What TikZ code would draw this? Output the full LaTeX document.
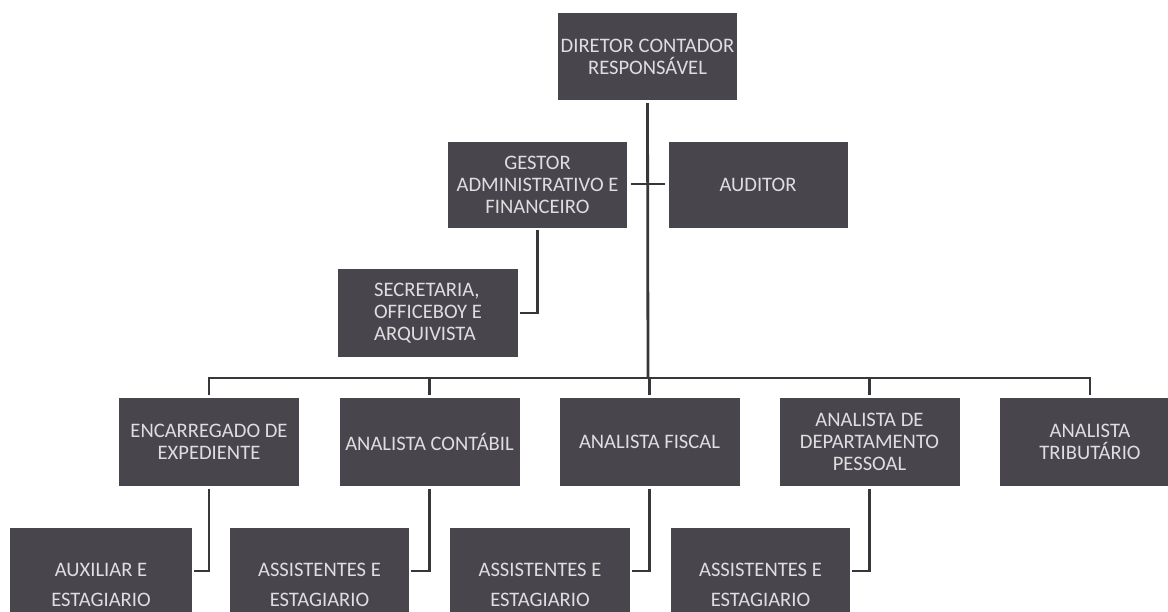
\documentclass[tikz,border=0pt]{standalone}
\usepackage{fontspec}
\setmainfont{Carlito}
\definecolor{boxfill}{RGB}{72,70,76}
\definecolor{boxtext}{RGB}{222,222,224}
\definecolor{linecol}{RGB}{55,55,58}
\tikzset{
  orgbox/.style={fill=boxfill, draw=none, inner sep=0pt, text=boxtext, align=center,
    font=\fontsize{20.6}{22}\selectfont, minimum width=180pt, minimum height=88pt},
  lowbox/.style={orgbox, font=\fontsize{20.6}{30}\selectfont, minimum height=114pt},
  conn/.style={draw=linecol, line width=2.8pt}
}
\begin{document}
\begin{tikzpicture}[x=1pt,y=-1pt]
\clip (0,0) rectangle (1168,611);
\fill[white] (0,0) rectangle (1168,611);
% top level
\node[orgbox, minimum width=179pt, minimum height=87pt] (dir) at (647.5,56.5) {DIRETOR CONTADOR\\RESPONSÁVEL};
\node[orgbox, minimum width=179pt, minimum height=86pt] (gest) at (537.5,185) {GESTOR\\ADMINISTRATIVO E\\FINANCEIRO};
\node[orgbox, minimum width=179pt, minimum height=86pt] (aud) at (758,185) {AUDITOR};
\node[orgbox, align=left] (sec) at (428,313) {SECRETARIA,\\OFFICEBOY E\\ARQUIVISTA};
% second level
\node[orgbox] (enc) at (209,441.5) {ENCARREGADO DE\\EXPEDIENTE};
\node[orgbox] (cont) at (429.5,441.5) {ANALISTA CONTÁBIL};
\node[orgbox] (fisc) at (649.5,441.5) {ANALISTA FISCAL};
\node[orgbox] (dp) at (869.5,441.5) {ANALISTA DE\\DEPARTAMENTO\\PESSOAL};
\node[orgbox] (trib) at (1090,441.5) {ANALISTA\\TRIBUTÁRIO};
% third level
\node[lowbox, minimum width=182pt] (aux) at (101,585) {AUXILIAR E\\ESTAGIARIO};
\node[lowbox, minimum width=179pt] (as1) at (319.5,585) {ASSISTENTES E\\ESTAGIARIO};
\node[lowbox] (as2) at (540,585) {ASSISTENTES E\\ESTAGIARIO};
\node[lowbox, minimum width=179pt] (as3) at (760.5,585) {ASSISTENTES E\\ESTAGIARIO};
% connectors
\coordinate (bus) at (648,378);
\draw[conn] ([yshift=-3pt]dir.south) -- (bus);
\draw[conn] ([xshift=4pt]gest.east |- 0,184) -- ([xshift=-3pt]aud.west |- 0,184);
\draw[conn] ([yshift=-2pt]gest.south) |- ([xshift=2pt]sec.east);
\draw[conn] ([yshift=2pt]enc.north) |- (bus) -| ([yshift=2pt]trib.north);
\draw[conn] ([yshift=2pt]cont.north) -- (cont.north |- bus);
\draw[conn] ([yshift=2pt]fisc.north) -- (fisc.north |- bus);
\draw[conn] ([yshift=2pt]dp.north) -- (dp.north |- bus);
\draw[conn] ([yshift=-3pt]enc.south) |- ([xshift=2pt,yshift=14pt]aux.east);
\draw[conn] ([yshift=-3pt]cont.south) |- ([xshift=2pt,yshift=14pt]as1.east);
\draw[conn] ([yshift=-3pt]fisc.south) |- ([xshift=2pt,yshift=14pt]as2.east);
\draw[conn] ([yshift=-3pt]dp.south) |- ([xshift=2pt,yshift=14pt]as3.east);
\end{tikzpicture}
\end{document}
